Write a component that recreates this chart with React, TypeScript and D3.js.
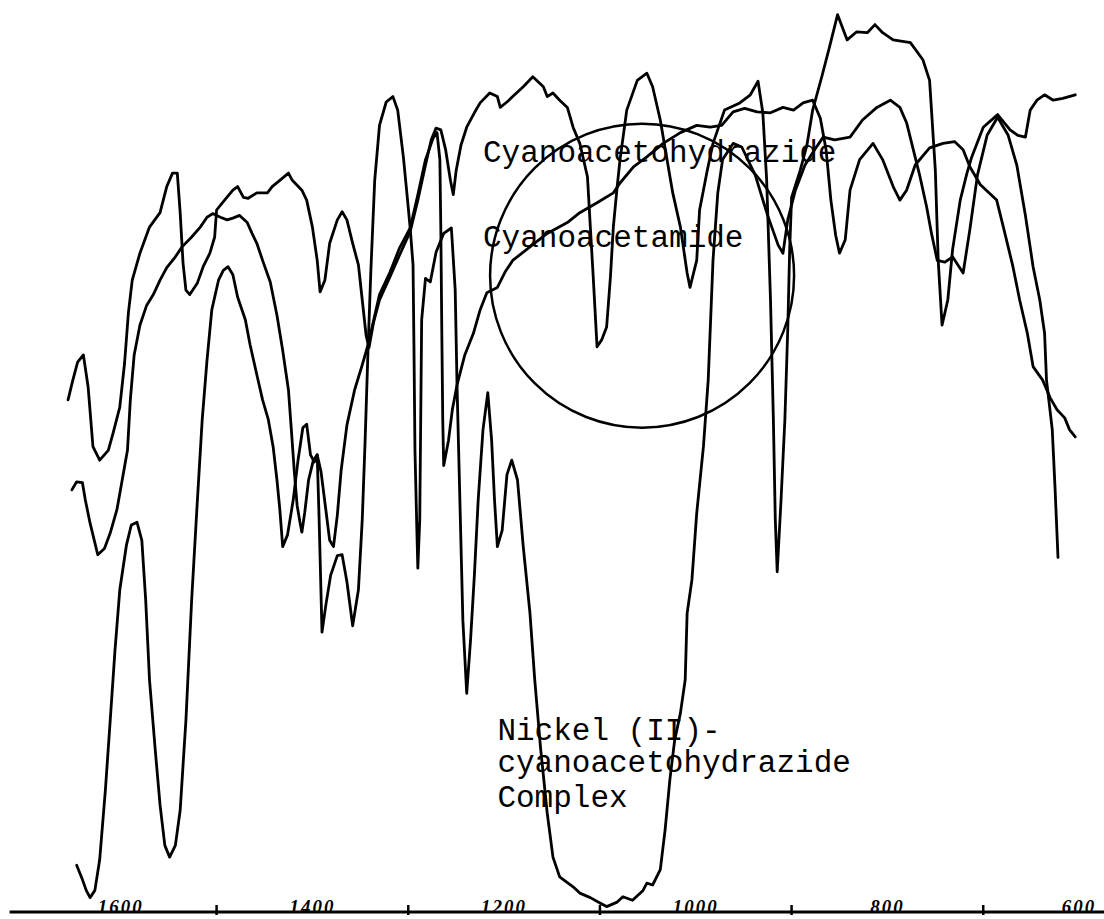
import * as d3 from "d3";
import React, { useEffect, useRef } from "react";

// [wavenumber cm-1, % transmittance]
const hydrazide: [number, number][] = [
  [1655, 56.9], [1650, 59.1], [1645, 61.1], [1639, 61.9], [1634, 58.3], [1629, 51.7], [1622, 50.2], [1613, 51.3],
  [1608, 53.2], [1601, 56.1], [1596, 61], [1592, 66.6], [1588, 70.2], [1580, 73.2], [1570, 76.1], [1559, 77.7],
  [1552, 80.6], [1546, 82.1], [1541, 82.1], [1538, 77.7], [1535, 72.1], [1532, 69.1], [1528, 68.6], [1520, 69.9],
  [1514, 71.7], [1507, 73.2], [1502, 75], [1500, 78], [1494, 78.8], [1483, 80.2], [1478, 80.6], [1472, 79.4],
  [1467, 79.3], [1458, 79.9], [1447, 79.9], [1442, 80.6], [1434, 81.3], [1425, 82.1], [1421, 81.3], [1411, 80.2],
  [1406, 79.1], [1400, 76.1], [1395, 72.4], [1392, 68.9], [1387, 70.2], [1382, 74.3], [1374, 76.9], [1369, 77.8],
  [1364, 76.9], [1358, 74.3], [1352, 71.9], [1348, 68], [1344, 64.1], [1341, 62.7], [1336, 65.6], [1330, 68],
  [1319, 70.6], [1309, 73], [1298, 75.6], [1290, 79.1], [1282, 83], [1276, 85.8], [1271, 87.1], [1266, 86.9],
  [1261, 84.7], [1256, 81.3], [1253, 79.7], [1250, 82.4], [1245, 85.2], [1239, 87.2], [1231, 88.8], [1225, 89.9],
  [1215, 91], [1207, 90.6], [1204, 89.4], [1197, 90], [1191, 90.6], [1180, 91.7], [1170, 92.8], [1159, 91.7],
  [1155, 90.6], [1149, 91], [1142, 90.2], [1134, 89.4], [1128, 87.2], [1121, 85.4], [1113, 81.7], [1110, 76.1],
  [1107, 70.6], [1103, 62.8], [1098, 63.6], [1093, 65], [1089, 70.6], [1086, 76.1], [1082, 80.6], [1079, 83.6],
  [1072, 89.1], [1061, 92.4], [1051, 93.2], [1045, 91.7], [1037, 88], [1030, 83.6], [1024, 79.9], [1016, 76.1],
  [1009, 71], [1006, 69.4], [999, 72.4], [996, 78], [988, 82.4], [982, 85.4], [970, 89.1], [954, 89.9],
  [943, 90.8], [935, 92.3], [930, 88.8], [926, 81.3], [922, 68], [919, 54.7], [917, 43.6], [915, 37.8],
  [911, 45.8], [907, 54.7], [904, 64.7], [902, 73.6], [900, 79.4], [891, 82.4], [884, 85.2], [878, 89.1],
  [868, 93], [860, 96.3], [852, 99.7], [842, 96.9], [832, 97.8], [821, 97.7], [813, 98.6], [805, 97.7],
  [794, 96.9], [776, 96.6], [763, 94.7], [756, 92.4], [750, 82.4], [747, 72.4], [743, 65.2], [737, 68],
  [732, 73.6], [724, 79.1], [717, 82.1], [712, 83.9], [700, 87.2], [685, 88.6], [672, 86.9], [664, 86.3],
  [656, 86.1], [651, 89.1], [644, 90.2], [636, 90.8], [627, 90.2], [617, 90.4], [604, 90.8],
];

const amide: [number, number][] = [
  [1651, 46.9], [1646, 47.8], [1640, 47.7], [1637, 45.8], [1632, 43.2], [1624, 39.7], [1617, 40.4], [1611, 42.1],
  [1604, 44.7], [1599, 47.7], [1593, 51.3], [1590, 56.9], [1586, 61.9], [1580, 65.2], [1573, 67.4], [1566, 68.6],
  [1559, 70.2], [1552, 71.6], [1543, 72.8], [1536, 73.9], [1526, 75], [1517, 76.1], [1510, 77.2], [1504, 77.6],
  [1496, 77.2], [1489, 76.9], [1483, 77.1], [1476, 77.4], [1468, 76.6], [1463, 75.4], [1458, 74.3], [1452, 72.4],
  [1444, 70], [1437, 66.3], [1431, 62.4], [1425, 58], [1422, 53.6], [1419, 49.1], [1416, 45.2], [1413, 43.3],
  [1411, 42.2], [1408, 44.4], [1404, 48], [1399, 50.2], [1395, 50.8], [1391, 48.9], [1386, 44.7], [1382, 41.3],
  [1378, 40.6], [1374, 44.1], [1370, 49.1], [1364, 54.1], [1356, 58], [1348, 60.8], [1342, 63], [1336, 65.8],
  [1330, 68.6], [1319, 71.1], [1309, 73.8], [1298, 76], [1290, 79.7], [1282, 83.6], [1274, 86], [1270, 86.6],
  [1267, 83.6], [1266, 75.8], [1265, 64.7], [1264, 54.7], [1263, 49.6], [1258, 52.4], [1254, 55.8], [1249, 58.6],
  [1241, 61.9], [1232, 64.3], [1225, 66.9], [1218, 68.8], [1207, 69.4], [1199, 71.1], [1191, 72.4], [1173, 73.9],
  [1155, 75.4], [1134, 76.6], [1121, 77.7], [1103, 78.8], [1086, 79.9], [1079, 81], [1065, 82.8], [1051, 83.9],
  [1034, 85.4], [1016, 86.6], [999, 87.4], [985, 87.2], [973, 87.4], [961, 88.9], [949, 89.3], [936, 88.9],
  [922, 88.8], [909, 89.4], [898, 89.1], [888, 89.9], [878, 90.2], [870, 88.2], [864, 84.7], [859, 79.1],
  [854, 75.2], [850, 73.2], [844, 74.7], [839, 80.2], [829, 83.6], [815, 85.4], [805, 83.6], [794, 80.6],
  [787, 79.1], [780, 80.2], [771, 83], [756, 84.9], [742, 85.4], [730, 85.6], [721, 84.7], [714, 82.8],
  [703, 80.8], [686, 79.1], [679, 76.1], [669, 71.7], [662, 68], [654, 64.3], [648, 60.6], [638, 59.1],
  [630, 57.1], [623, 55.8], [615, 54.9], [610, 53.6], [604, 52.8],
];

const nickel: [number, number][] = [
  [1646, 5.2], [1640, 3.6], [1636, 2.4], [1632, 1.6], [1627, 2.4], [1622, 5.8], [1616, 13.6], [1611, 21.3],
  [1606, 29.1], [1601, 35.8], [1594, 40.8], [1589, 43], [1583, 43.3], [1578, 41.3], [1574, 34.7], [1570, 25.8],
  [1564, 18], [1559, 11.9], [1554, 7.4], [1549, 6.1], [1543, 7.4], [1538, 11.3], [1532, 21.3], [1526, 34.7],
  [1520, 45.8], [1515, 54.7], [1510, 61.3], [1505, 66.9], [1498, 70.2], [1493, 71.3], [1488, 71.7], [1483, 70.8],
  [1478, 68.3], [1470, 65.8], [1465, 63], [1458, 59.7], [1452, 56.9], [1446, 54.7], [1441, 51.7], [1437, 48],
  [1434, 44.7], [1431, 40.6], [1426, 41.9], [1420, 45.8], [1415, 50.2], [1410, 53.8], [1406, 54.2], [1402, 50.8],
  [1398, 50], [1395, 50.8], [1393, 43.6], [1390, 31.1], [1386, 34.1], [1381, 37.4], [1374, 39.6], [1369, 39.7],
  [1364, 36.7], [1358, 31.8], [1352, 35.8], [1348, 43.6], [1345, 52.4], [1342, 62.4], [1339, 71.3], [1335, 81.3],
  [1330, 87.4], [1323, 90], [1316, 90.6], [1311, 89.1], [1305, 83.8], [1301, 79.4], [1298, 76], [1295, 71.9],
  [1294, 62.4], [1293, 51.3], [1291, 42.4], [1290, 38.2], [1288, 43.6], [1287, 54.7], [1286, 65.8], [1282, 70.4],
  [1277, 70], [1271, 73.3], [1263, 75.4], [1255, 76], [1251, 69.1], [1249, 58.1], [1246, 45.2], [1243, 32.4],
  [1239, 24.3], [1235, 30.2], [1231, 37.4], [1227, 45.8], [1222, 53.6], [1217, 57.7], [1213, 52.4], [1210, 45.8],
  [1207, 40.6], [1202, 42.4], [1197, 48.6], [1192, 50.2], [1186, 48], [1180, 40.6], [1173, 33.2], [1168, 25.8],
  [1162, 18.3], [1155, 11], [1149, 6.1], [1142, 3.9], [1128, 2.8], [1121, 2.1], [1110, 1.6], [1100, 1],
  [1093, 0.6], [1082, 1.1], [1076, 1.7], [1066, 1.3], [1055, 2.4], [1051, 3.2], [1045, 3], [1037, 4.7],
  [1032, 9.1], [1027, 14.7], [1022, 19.1], [1016, 22.1], [1011, 25.8], [1009, 33.2], [1004, 36.9], [999, 44.3],
  [992, 51.7], [987, 59.1], [982, 72.4], [977, 79.9], [972, 83.6], [961, 85.4], [952, 85], [938, 81.9],
  [925, 77.4], [914, 74.1], [909, 73.2], [904, 76.9], [896, 80.2], [886, 83], [876, 84.7], [867, 86.1],
  [855, 85.8], [839, 86.1], [826, 88], [811, 89.4], [797, 90.2], [787, 89.4], [780, 87.7], [773, 84.7],
  [766, 81.7], [759, 78.3], [754, 75.4], [748, 72.4], [740, 72.2], [732, 72.8], [721, 71], [714, 75.8],
  [706, 81.9], [696, 86.3], [685, 88.3], [674, 86.3], [665, 83], [656, 77.4], [648, 71.7], [641, 68],
  [636, 64.3], [634, 59.1], [628, 53.6], [625, 46.9], [622, 39.4],
];

const tickLabels = [1600, 1400, 1200, 1000, 800, 600];
const minorTicks = [1500, 1300, 1100, 900, 700];

const App = () => {
  const ref = useRef<SVGSVGElement>(null);

  useEffect(() => {
    const width = 1104;
    const height = 919;

    // scales: wavenumber runs right to left, transmittance bottom to top
    const x = d3.scaleLinear().domain([1726, 574]).range([0, width]);
    const y = d3.scaleLinear().domain([0, 100]).range([912, 12]);

    const svg = d3.select(ref.current);
    svg.selectAll("*").remove();
    svg.append("rect").attr("width", width).attr("height", height).attr("fill", "#fff");

    const line = d3
      .line<[number, number]>()
      .x((d) => x(d[0]))
      .y((d) => y(d[1]));

    [hydrazide, amide, nickel].forEach((series) => {
      svg.append("path")
        .datum(series)
        .attr("d", line)
        .attr("fill", "none")
        .attr("stroke", "#000")
        .attr("stroke-width", 2.8)
        .attr("stroke-linejoin", "round")
        .attr("stroke-linecap", "round");
    });

    // circled region
    svg.append("circle")
      .attr("cx", x(1056))
      .attr("cy", y(70.7))
      .attr("r", 152)
      .attr("fill", "none")
      .attr("stroke", "#000")
      .attr("stroke-width", 2.5);

    // baseline axis
    svg.append("line")
      .attr("x1", x(1716)).attr("x2", width)
      .attr("y1", y(0)).attr("y2", y(0))
      .attr("stroke", "#000").attr("stroke-width", 3);

    svg.selectAll(".minor")
      .data(minorTicks)
      .enter()
      .append("line")
      .attr("x1", (d) => x(d)).attr("x2", (d) => x(d))
      .attr("y1", y(0) - 7).attr("y2", y(0) + 3)
      .attr("stroke", "#000").attr("stroke-width", 2.5);

    svg.selectAll(".tick-label")
      .data(tickLabels)
      .enter()
      .append("text")
      .attr("x", (d) => x(d))
      .attr("y", y(0) + 1)
      .attr("text-anchor", "middle")
      .style("font-family", "'Liberation Serif', serif")
      .style("font-style", "italic")
      .style("font-weight", "bold")
      .style("font-size", "19px")
      .style("letter-spacing", "2px")
      .text((d) => d);

    // typed labels
    const typed = (t: string, wn: number, tr: number) =>
      svg.append("text")
        .attr("x", x(wn))
        .attr("y", y(tr))
        .style("font-family", "'Liberation Mono', monospace")
        .style("font-size", "31px")
        .text(t);

    typed("Cyanoacetohydrazide", 1222, 83.3);
    typed("Cyanoacetamide", 1222, 73.9);
    typed("Nickel (II)-", 1207, 19.1);
    typed("cyanoacetohydrazide", 1207, 15.6);
    typed("Complex", 1207, 11.7);
  }, []);

  return (
    <svg
      ref={ref}
      width={1104}
      height={919}
      style={{ position: "absolute", left: 0, top: 0 }}
    />
  );
};

export default App;
